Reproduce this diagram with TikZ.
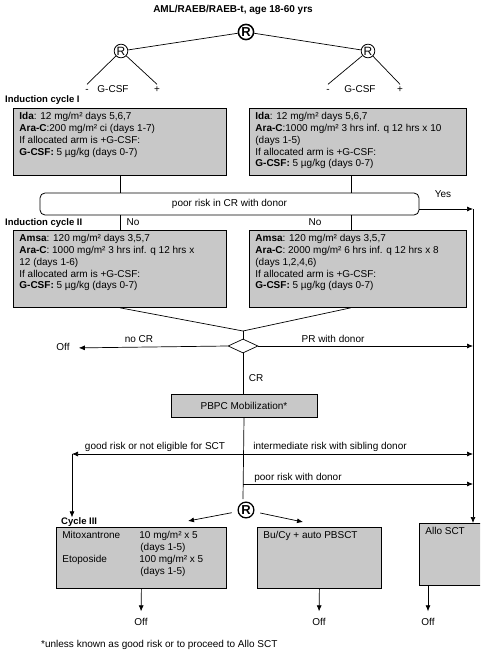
\documentclass[tikz,border=0pt]{standalone}
\usepackage{fontspec}
\setmainfont{Liberation Sans}
\usetikzlibrary{shapes.geometric,arrows.meta}
\definecolor{boxgray}{RGB}{200,200,200}
\newcommand{\toptext}[3]{\parbox[t][#2][t]{#1}{\raggedright #3}}

\begin{document}
\begin{tikzpicture}[
    x=1pt, y=-1pt,
    font=\fontsize{10}{11.8}\selectfont,
    drug/.style={draw, fill=boxgray, line width=0.8pt, anchor=north west, inner xsep=6pt, inner ysep=4pt},
    plain/.style={draw, fill=boxgray, line width=0.8pt},
    rnode/.style={circle, draw, line width=0.8pt, inner sep=0.6pt, font=\fontsize{12}{12}\selectfont},
    bigr/.style={circle, draw, line width=1.5pt, inner sep=0.8pt, font=\fontsize{13}{13}\selectfont\bfseries},
    lbl/.style={inner sep=1pt, text height=7pt, text depth=2pt},
    head/.style={inner sep=0pt, anchor=west, font=\fontsize{9.5}{11}\selectfont\bfseries},
    edge/.style={line width=0.7pt, -},
    arrow/.style={line width=0.7pt, -{Latex[length=6pt,width=5pt]}}
]
\clip (0,0) rectangle (480,660);

% Define randomisation
\node[font=\fontsize{10}{12}\selectfont\bfseries] (title) at (233,10) {AML/RAEB/RAEB-t, age 18-60 yrs};
\node[bigr] (r0) at (246,32) {R};
\node[rnode] (r1) at (121,51) {R};
\node[rnode] (r2) at (368,51) {R};
\node[lbl] (m1) at (87,90) {-};
\node[lbl] (g1) at (113,90) {G-CSF};
\node[lbl] (p1) at (157,90) {+};
\node[lbl] (m2) at (328,90) {-};
\node[lbl] (g2) at (360,90) {G-CSF};
\node[lbl] (p2) at (400,90) {+};

\draw[edge] (r0) -- (r1);
\draw[edge] (r0) -- (r2);
\draw[edge] (r1) -- (m1.north);
\draw[edge] (r1) -- (p1.north);
\draw[edge] (r2) -- (m2.north);
\draw[edge] (r2) -- (p2.north);

% Define induction cycles
\node[head] (ind1lbl) at (5,100) {Induction cycle I};
\node[drug] (ind1L) at (13,108) {\toptext{201pt}{59pt}{%
  \textbf{Ida}: 12 mg/m² days 5,6,7\\
  \textbf{Ara-C}:200 mg/m² ci (days 1-7)\\
  If allocated arm is +G-CSF:\\
  \textbf{G-CSF:} 5 µg/kg (days 0-7)}};
\node[drug] (ind1R) at (249,108) {\toptext{205pt}{59pt}{%
  \textbf{Ida}: 12 mg/m² days 5,6,7\\
  \textbf{Ara-C}:1000 mg/m² 3 hrs inf. q 12 hrs x 10\\
  (days 1-5)\\
  If allocated arm is +G-CSF:\\
  \textbf{G-CSF:} 5 µg/kg (days 0-7)}};

\node[draw, line width=0.8pt, rounded corners=5pt, minimum width=379pt, minimum height=22pt] (poor) at (229.5,204) {poor risk in CR with donor};
\node[lbl] (yes) at (443,195) {Yes};
\coordinate (yesend) at (473,209);

\node[head] (ind2lbl) at (5,223) {Induction cycle II};
\node[lbl] (no1) at (133,223) {No};
\node[lbl] (no2) at (315,223) {No};
\node[drug] (ind2L) at (13,230) {\toptext{201pt}{69pt}{%
  \textbf{Amsa}: 120 mg/m² days 3,5,7\\
  \textbf{Ara-C}: 1000 mg/m² 3 hrs inf. q 12 hrs x\\
  12 (days 1-6)\\
  If allocated arm is +G-CSF:\\
  \textbf{G-CSF:} 5 µg/kg (days 0-7)}};
\node[drug] (ind2R) at (249,230) {\toptext{205pt}{69pt}{%
  \textbf{Amsa}: 120 mg/m² days 3,5,7\\
  \textbf{Ara-C}: 2000 mg/m² 6 hrs inf. q 12 hrs x 8\\
  (days 1,2,4,6)\\
  If allocated arm is +G-CSF:\\
  \textbf{G-CSF:} 5 µg/kg (days 0-7)}};

\draw[edge] (ind1L.south) -- (ind1L.south |- poor.north);
\draw[edge] ([xshift=-7pt]ind1R.south) -- ([xshift=-7pt]ind1R.south |- poor.north);
\draw[edge] (ind2L.north |- poor.south) -- (ind2L.north);
\draw[edge] ([xshift=-7pt]ind2R.north |- poor.south) -- ([xshift=-7pt]ind2R.north);
\draw[arrow] (poor.east |- yesend) -- (yesend);

% Define response
\coordinate (merge) at (243,331);
\node[diamond, draw, line width=0.7pt, inner sep=0pt, minimum width=30pt, minimum height=14pt] (dia) at (243,346) {};
\node[lbl] (offL) at (63,348) {Off};
\node[lbl] (nocr) at (139,340) {no CR};
\node[lbl] (prd) at (333,340) {PR with donor};
\node[lbl] (cr) at (256,379) {CR};
\node[plain, minimum width=146pt, minimum height=23pt] (pbpc) at (244,405.5) {PBPC Mobilization*};

\draw[edge] (ind2L.south) -- (merge);
\draw[edge] ([xshift=-7pt]ind2R.south) -- (merge);
\draw[edge] (merge) -- (dia.north);
\draw[arrow, shorten >=8pt] (dia.west) -- (offL.east);
\draw[arrow] (dia.east) -- (dia.east -| yesend);
\draw[edge] (dia.south) -- (dia.south |- pbpc.north);

% Define consolidation
\coordinate (b1) at (243,454);
\coordinate (b2) at (243,484);
\coordinate (stem) at (243,499);
\coordinate (turn) at (72,454);
\node[lbl] (good) at (155,447) {good risk or not eligible for SCT};
\node[lbl] (inter) at (330,447) {intermediate risk with sibling donor};
\node[lbl] (poord) at (298,478) {poor risk with donor};
\node[bigr, line width=1.3pt, inner sep=1pt] (r3) at (246,510) {R};
\coordinate (toM) at (188,521);
\coordinate (toB) at (303,522);

\node[head] (cyc3lbl) at (61,522) {Cycle III};
\node[drug] (cyc3) at (56,527) {\toptext{158pt}{53pt}{%
  \makebox[77pt][l]{Mitoxantrone}10 mg/m² x 5\\
  \hspace*{78pt}(days 1-5)\\
  \makebox[77pt][l]{Etoposide}100 mg/m² x 5\\
  \hspace*{78pt}(days 1-5)}};
\node[drug] (bucy) at (257,527) {\toptext{112pt}{53pt}{Bu/Cy + auto PBSCT}};
\node[drug] (allo) at (419,523) {\toptext{58pt}{54pt}{Allo SCT}};
\node[lbl] (off1) at (141,623) {Off};
\node[lbl] (off2) at (319,623) {Off};
\node[lbl] (off3) at (428,623) {Off};
\node[lbl, anchor=west] (note) at (40,645) {*unless known as good risk or to proceed to Allo SCT};

\draw[edge] (pbpc.south) -- (stem);
\draw[arrow] (b1) -- (turn);
\draw[arrow] (turn) -- (turn |- cyc3lbl.north);
\draw[arrow] (b1) -- (b1 -| yesend);
\draw[arrow] (b2) -- (b2 -| yesend);
\draw[arrow] (yesend) -- (yesend |- allo.north);
\draw[arrow, shorten <=6pt] (r3) -- (toM);
\draw[arrow, shorten <=6pt] (r3) -- (toB);
\draw[arrow, shorten >=6pt] (cyc3.south) -- (off1.north);
\draw[arrow, shorten >=6pt] (bucy.south) -- (off2.north);
\draw[arrow, shorten >=6pt] (off3 |- allo.south) -- (off3.north);

\end{tikzpicture}
\end{document}
